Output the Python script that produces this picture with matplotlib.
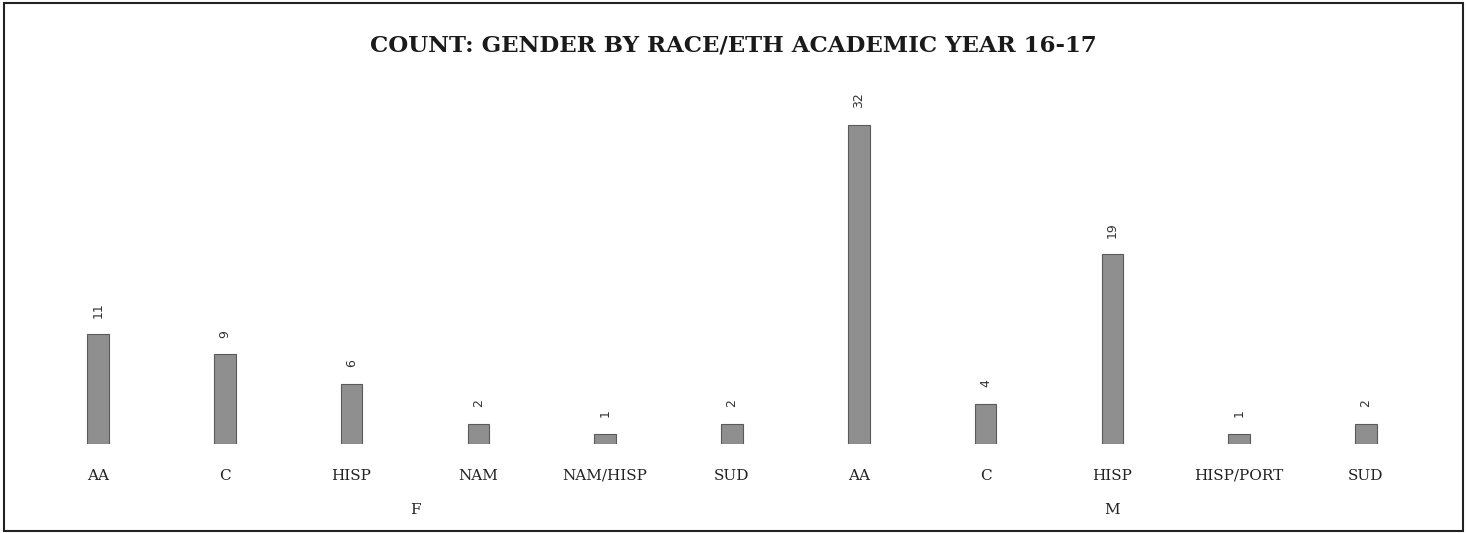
import numpy as np
import matplotlib
matplotlib.use('Agg')
from matplotlib import pyplot as plt
from matplotlib.patches import Rectangle
from matplotlib.transforms import blended_transform_factory

# data
races_f = ['AA', 'C', 'HISP', 'NAM', 'NAM/HISP', 'SUD']
counts_f = [11, 9, 6, 2, 1, 2]
races_m = ['AA', 'C', 'HISP', 'HISP/PORT', 'SUD']
counts_m = [32, 4, 19, 1, 2]
genders = ['F', 'M']

labels = races_f + races_m
counts = counts_f + counts_m
x = np.arange(len(labels))

plt.rcParams['font.family'] = ['DejaVu Serif']

fig = plt.figure(figsize=(14.67, 5.33), dpi=100)
ax = fig.add_axes([0.0236, 0.167, 0.9507, 0.674])

ax.bar(x, counts, width=0.17, color='#8f8f8f', edgecolor='#5a5a5a', linewidth=0.8)
for xi, c in zip(x, counts):
    ax.annotate(str(c), (xi, c), xytext=(0, 12), textcoords='offset points',
                rotation=90, ha='center', va='bottom', fontsize=9,
                family='DejaVu Sans', color='#333333')

ax.set_xlim(-0.5, len(labels) - 0.5)
ax.set_ylim(0, 36)
ax.set_xticks(x)
ax.set_xticklabels(labels, fontsize=11, color='#222222')
ax.tick_params(axis='x', length=0, pad=18)
ax.set_yticks([])
for s in ax.spines.values():
    s.set_visible(False)

# group labels under the category labels
tr = blended_transform_factory(ax.transData, fig.transFigure)
ax.text(np.mean(x[:len(races_f)]), 0.043, genders[0], transform=tr,
        ha='center', va='center', fontsize=11, color='#222222')
ax.text(np.mean(x[len(races_f):]), 0.043, genders[1], transform=tr,
        ha='center', va='center', fontsize=11, color='#222222')

fig.text(0.5, 0.915, 'COUNT: GENDER BY RACE/ETH ACADEMIC YEAR 16-17',
         ha='center', va='center', fontsize=16.5, fontweight='bold', color='#1a1a1a')

fig.patches.append(Rectangle((0.003, 0.004), 0.994, 0.99, transform=fig.transFigure,
                             fill=False, edgecolor='#222222', linewidth=1.5))

plt.savefig('out.png', dpi=100)
